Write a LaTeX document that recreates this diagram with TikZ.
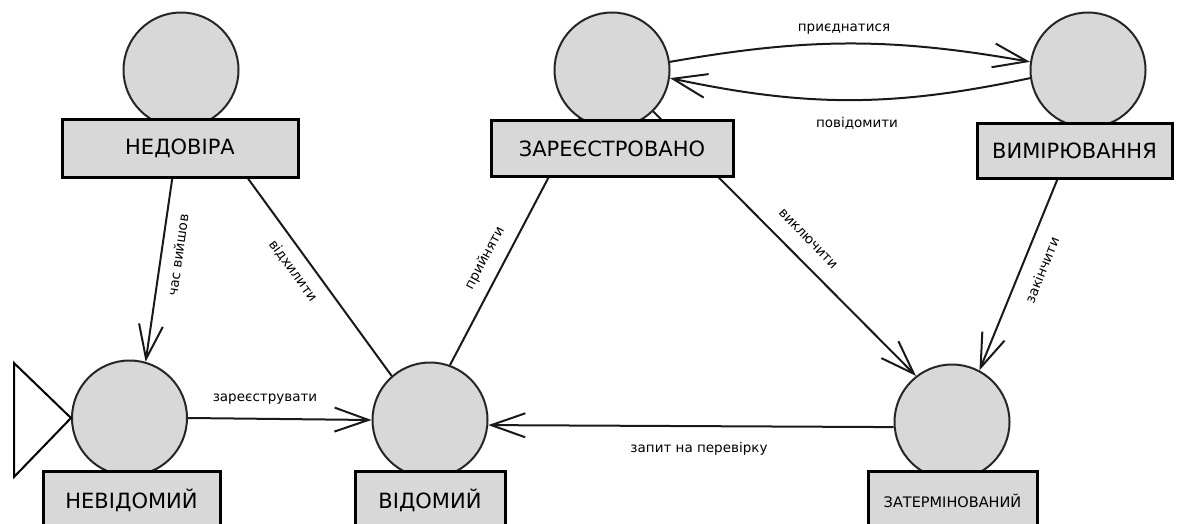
\documentclass[tikz,border=0pt]{standalone}
\usepackage{fontspec}
\setmainfont{DejaVu Sans}
\usetikzlibrary{arrows.meta,calc,backgrounds}
\definecolor{statefill}{HTML}{D8D8D8}
\begin{document}
\begin{tikzpicture}[x=1pt,y=-1pt,
  state/.style={circle, draw=black!85, line width=2pt, fill=statefill,
    minimum size=115pt, inner sep=0pt},
  namebox/.style={rectangle, draw=black, line width=3pt, fill=statefill,
    inner sep=0pt, font=\fontsize{21}{25}\selectfont},
  conn/.style={line width=2pt, draw=black!90},
  arr/.style={conn, -{Straight Barb[length=34pt,width=24pt,line width=2pt]}},
  lbl/.style={font=\fontsize{13.5}{16}\selectfont, inner sep=1pt},
]
\useasboundingbox (0,0) rectangle (1194,524);

% states
\node[state] (c1) at (181,70)  {};
\node[state] (c2) at (129.5,418) {};
\node[state] (c3) at (430,420) {};
\node[state] (c4) at (952,422) {};
\node[state] (c5) at (612,70)  {};
\node[state] (c6) at (1088,70) {};

% name plates
\node[namebox, minimum width=236pt, minimum height=57pt] (b1) at (180,148.5) {НЕДОВІРА};
\node[namebox, minimum width=177pt, minimum height=59pt] (b2) at (131.5,500.5) {НЕВІДОМИЙ};
\node[namebox, minimum width=150pt, minimum height=59pt] (b3) at (430,500.5) {ВІДОМИЙ};
\node[namebox, minimum width=169pt, minimum height=59pt,
      font=\fontsize{14.5}{17}\selectfont] (b4) at (952.5,500.5) {ЗАТЕРМІНОВАНИЙ};
\node[namebox, minimum width=242pt, minimum height=55pt] (b5) at (612,148.5) {ЗАРЕЄСТРОВАНО};
\node[namebox, minimum width=195pt, minimum height=54pt] (b6) at (1074.5,151) {ВИМІРЮВАННЯ};

% initial marker
\coordinate (i1) at (14,363);
\coordinate (i2) at (14,477);
\draw[line width=2pt] (i1) -- (i2) -- (c2.west) -- cycle;

% transitions
\begin{scope}[on background layer]
  \draw[arr]  ($(c1.center)+(7,0)$) -- (c2.74);
  \draw[conn] ($(c1.center)+(-12,0)$) -- (c3.131);
  \draw[conn] ($(c5.center)+(-7,0)$) -- (c3.70);
  \draw[arr]  (c5.center) -- (c4.128);
  \draw[arr]  ($(c6.center)+(14,0)$) -- (c4.62);
  \draw[arr]  (c2.east) -- (c3.west);
  \draw[arr]  (c4.185) -- (c3.355);
  \draw[arr]  (c5.8) to[bend left=10] (c6.172);
  \draw[arr]  (c6.188) to[bend left=12] (c5.352);
\end{scope}

% transition labels
\node[lbl, rotate=82]  (l1) at (178,255)  {час вийшов};
\node[lbl, rotate=-54] (l2) at (293,271)  {відхилити};
\node[lbl, rotate=62]  (l3) at (485,258)  {прийняти};
\node[lbl, rotate=-46] (l4) at (808,239)  {виключити};
\node[lbl, rotate=68]  (l5) at (1042,270) {закінчити};
\node[lbl] (l6) at (265,399) {зареєструвати};
\node[lbl] (l7) at (699,449) {запит на перевірку};
\node[lbl] (l8) at (844,29)  {приєднатися};
\node[lbl] (l9) at (857,123) {повідомити};
\end{tikzpicture}
\end{document}
